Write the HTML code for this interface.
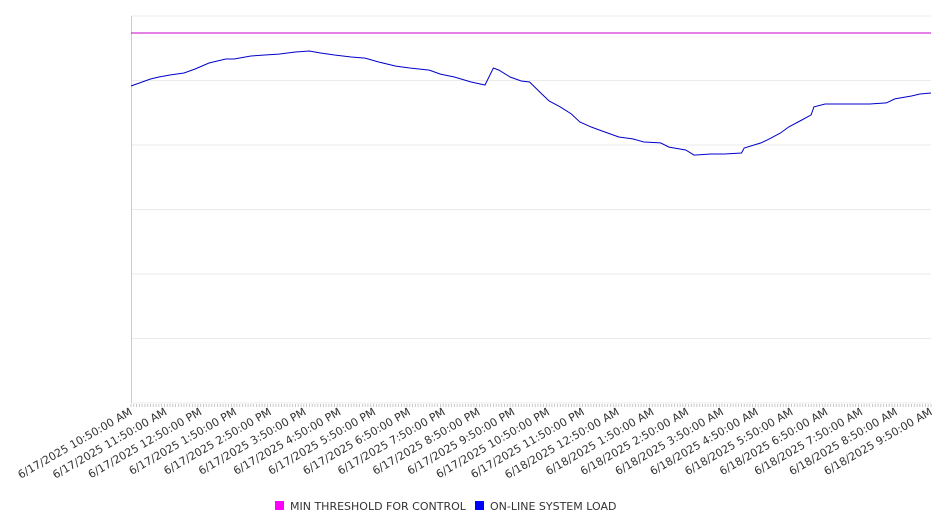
<!DOCTYPE html>
<html><head><meta charset="utf-8"><style>
body{margin:0;background:#fff;}
svg{display:block;font-family:"DejaVu Sans","Liberation Sans",sans-serif;}
</style></head><body>
<svg id="chart" width="946" height="526"></svg>
<script>
const minutes=[0,15,35,50,70,95,115,140,170,185,215,240,265,295,320,340,365,395,420,445,475,500,535,555,580,610,635,650,660,680,700,715,735,750,770,790,805,825,840,860,875,900,920,950,965,995,1010,1040,1065,1095,1100,1130,1145,1165,1180,1200,1220,1225,1245,1270,1300,1325,1355,1370,1400,1415,1435];
const loadValues=[2457,2481,2512,2527,2543,2558,2589,2636,2667,2667,2690,2698,2705,2721,2729,2713,2698,2682,2674,2643,2612,2597,2581,2550,2527,2488,2465,2597,2581,2527,2496,2488,2403,2341,2295,2240,2178,2140,2116,2085,2062,2047,2023,2016,1984,1961,1922,1930,1930,1938,1977,2016,2047,2093,2140,2186,2233,2295,2318,2318,2318,2318,2326,2357,2380,2395,2403];
const thresholdValue=2868;
const tickLabels=["6/17/2025 10:50:00 AM","6/17/2025 11:50:00 AM","6/17/2025 12:50:00 PM","6/17/2025 1:50:00 PM","6/17/2025 2:50:00 PM","6/17/2025 3:50:00 PM","6/17/2025 4:50:00 PM","6/17/2025 5:50:00 PM","6/17/2025 6:50:00 PM","6/17/2025 7:50:00 PM","6/17/2025 8:50:00 PM","6/17/2025 9:50:00 PM","6/17/2025 10:50:00 PM","6/17/2025 11:50:00 PM","6/18/2025 12:50:00 AM","6/18/2025 1:50:00 AM","6/18/2025 2:50:00 AM","6/18/2025 3:50:00 AM","6/18/2025 4:50:00 AM","6/18/2025 5:50:00 AM","6/18/2025 6:50:00 AM","6/18/2025 7:50:00 AM","6/18/2025 8:50:00 AM","6/18/2025 9:50:00 AM"];
const yTicks=[0,500,1000,1500,2000,2500,3000];

const NS="http://www.w3.org/2000/svg";
const svg=document.getElementById('chart');
const L=131,R=931,T=16,B=403,maxMin=1435,yMax=3000;
const x=m=>L+m/maxMin*(R-L);
const y=v=>B-v/yMax*(B-T);
function mk(tag,attrs,parent){const e=document.createElementNS(NS,tag);for(const k in attrs)e.setAttribute(k,attrs[k]);(parent||svg).appendChild(e);return e;}

yTicks.forEach(v=>{
  const g=mk('line',{x1:L,x2:R,y1:y(v),y2:y(v),stroke:'#ebebeb','stroke-width':1});
  
  
});
const ax=mk('line',{x1:L+0.5,x2:L+0.5,y1:T,y2:B,stroke:'#ccc','stroke-width':1});


for(let m=0;m<=maxMin;m+=5){
  const t=mk('line',{x1:x(m),x2:x(m),y1:B+1,y2:B+4,stroke:'#bbb','stroke-width':0.8});
  
  
}
tickLabels.forEach((s,i)=>{
  const px=L+i*(R-L)/(tickLabels.length-1)+2;
  const t=mk('text',{x:px,y:414,'text-anchor':'end','font-size':11,fill:'#333',transform:`rotate(-30 ${px} 414)`});
  t.textContent=s;
  
  
});
const th=mk('line',{x1:L,x2:R,y1:y(thresholdValue),y2:y(thresholdValue),stroke:'#cc00cc','stroke-width':1});


const pts=minutes.map((m,i)=>x(m).toFixed(1)+','+y(loadValues[i]).toFixed(1)).join(' ');
const pl=mk('polyline',{points:pts,fill:'none',stroke:'#0000cc','stroke-width':1});



const lg=mk('g',{});


const r1=mk('rect',{x:275,y:501,width:9,height:9,fill:'#ff00ff'},lg);


const t1=mk('text',{x:290,y:510,'font-size':11,fill:'#333'},lg);t1.textContent='MIN THRESHOLD FOR CONTROL';


const r2=mk('rect',{x:475,y:501,width:9,height:9,fill:'#0000ff'},lg);


const t2=mk('text',{x:490,y:510,'font-size':11,fill:'#333'},lg);t2.textContent='ON-LINE SYSTEM LOAD';


</script>
</body></html>
